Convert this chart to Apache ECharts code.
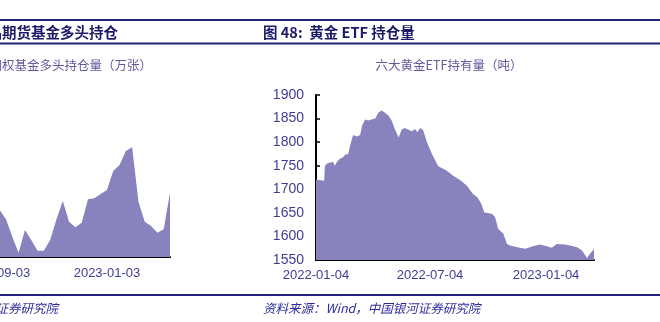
<!DOCTYPE html>
<html><head><meta charset="utf-8">
<script src="https://cdn.jsdelivr.net/npm/echarts@6/dist/echarts.min.js"></script>
<style>html,body{margin:0;padding:0;background:#fff}#c{width:660px;height:322px}</style>
</head><body><div id="c"></div>
<script>
// Left chart (期权基金多头持仓量, 万张) — weekly
const leftDates = ['2022-09-06','2022-09-13','2022-09-20','2022-09-27','2022-10-04','2022-10-11','2022-10-18','2022-10-25','2022-11-01','2022-11-08','2022-11-15','2022-11-22','2022-11-29','2022-12-06','2022-12-13','2022-12-20','2022-12-27','2023-01-03','2023-01-10','2023-01-17','2023-01-24','2023-01-31','2023-02-07','2023-02-14','2023-02-21','2023-02-28','2023-03-07','2023-03-14'];
const leftValues = [8.70,6.98,3.76,0.80,5.00,3.15,1.17,1.17,3.15,6.98,10.37,6.54,5.50,6.35,10.69,10.87,11.67,12.41,15.93,17.04,19.63,20.31,10.24,6.54,5.74,4.50,5.13,11.91];
const leftTicks = ['2022-09-03','2023-01-03'];

// Right chart (六大黄金ETF持有量, 吨)
const rightDates = ['2022-01-04','2022-01-17','2022-01-18','2022-01-21','2022-01-26','2022-01-29','2022-01-31','2022-02-03','2022-02-06','2022-02-11','2022-02-16','2022-02-19','2022-02-24','2022-02-27','2022-03-02','2022-03-04','2022-03-10','2022-03-15','2022-03-18','2022-03-23','2022-03-28','2022-04-02','2022-04-08','2022-04-13','2022-04-18','2022-04-24','2022-04-29','2022-05-04','2022-05-09','2022-05-15','2022-05-20','2022-05-25','2022-05-30','2022-06-05','2022-06-10','2022-06-14','2022-06-18','2022-06-23','2022-06-29','2022-07-07','2022-07-17','2022-07-30','2022-08-09','2022-08-21','2022-08-31','2022-09-10','2022-09-17','2022-09-23','2022-09-28','2022-10-10','2022-10-15','2022-10-20','2022-10-28','2022-11-03','2022-11-08','2022-11-19','2022-12-02','2022-12-14','2022-12-25','2023-01-05','2023-01-13','2023-01-21','2023-02-03','2023-02-11','2023-02-22','2023-03-02','2023-03-10','2023-03-15','2023-03-21'];
const rightValues = [1721,1718,1749,1754,1757,1756,1758,1750,1758,1765,1768,1773,1775,1773,1807,1815,1812,1815,1835,1848,1846,1848,1850,1863,1867,1862,1856,1846,1828,1810,1827,1830,1827,1823,1828,1821,1830,1825,1800,1775,1749,1740,1729,1719,1708,1690,1683,1670,1651,1648,1641,1616,1606,1584,1581,1577,1574,1579,1583,1579,1576,1584,1583,1581,1577,1570,1554,1564,1573];
const rightTicks = ['2022-01-04','2022-07-04','2023-01-04'];
const rightYMin = 1550, rightYMax = 1900, rightYStep = 50;

function d(s){const p=s.split('-').map(Number);return Date.UTC(p[0],p[1]-1,p[2]);}
function fmt(v){const t=new Date(v);const m=t.getUTCMonth()+1,dd=t.getUTCDate();return t.getUTCFullYear()+'-'+(m<10?'0':'')+m+'-'+(dd<10?'0':'')+dd;}

const NAVY='#23217a', LAB='#3f3c96', SUB='#5f5a9e', FILL='#8882bd';
const chart = echarts.init(document.getElementById('c'), null, {renderer:'canvas'});
const axisX = (ticks, margin) => ({
  type:'value', scale:true,
  axisLine:{show:true,lineStyle:{color:'#000',width:2}},
  axisTick:{show:true,inside:true,length:4,lineStyle:{color:'#000',width:2},customValues:ticks.map(d)},
  axisLabel:{customValues:ticks.map(d),formatter:fmt,color:LAB,fontSize:13,fontFamily:'Liberation Sans, Arial',margin:margin,showMinLabel:true,showMaxLabel:true,hideOverlap:false},
  splitLine:{show:false}
});
chart.setOption({
  animation:false,
  grid:[
    {left:-3,top:95,width:173,height:162,outerBoundsMode:'none',containLabel:false},
    {left:316,top:95,width:278,height:165,outerBoundsMode:'none',containLabel:false}
  ],
  xAxis:[
    Object.assign(axisX(leftTicks,10),{gridIndex:0,min:d('2022-09-03'),max:d('2023-03-14')}),
    Object.assign(axisX(rightTicks,9),{gridIndex:1,min:d('2022-01-04'),max:d('2023-03-21')})
  ],
  yAxis:[
    {type:'value',gridIndex:0,min:0,max:30,show:false},
    {type:'value',gridIndex:1,min:rightYMin,max:rightYMax,interval:rightYStep,
     axisLine:{show:true,lineStyle:{color:'#000',width:2}},
     axisTick:{show:true,inside:true,length:4,lineStyle:{color:'#000',width:1.5}},
     axisLabel:{color:LAB,fontSize:14,fontFamily:'Liberation Sans, Arial',margin:12,formatter:v=>String(v)},
     splitLine:{show:false}}
  ],
  series:[
    {type:'line',xAxisIndex:0,yAxisIndex:0,data:leftDates.map((t,i)=>[d(t),leftValues[i]]),showSymbol:false,lineStyle:{width:0},areaStyle:{color:FILL,opacity:1,origin:'start'}},
    {type:'line',xAxisIndex:1,yAxisIndex:1,data:rightDates.map((t,i)=>[d(t),rightValues[i]]),showSymbol:false,lineStyle:{width:0},areaStyle:{color:FILL,opacity:1,origin:'start'}}
  ],
  graphic:[
    {type:'line',shape:{x1:0,y1:20,x2:660,y2:20},style:{stroke:NAVY,lineWidth:2}},
    {type:'line',shape:{x1:0,y1:43.5,x2:660,y2:43.5},style:{stroke:NAVY,lineWidth:2}},
    {type:'line',shape:{x1:0,y1:295,x2:660,y2:295},style:{stroke:NAVY,lineWidth:2}},
    {type:'text',style:{text:'图 47：商品期货基金多头持仓',x:118,y:32,textAlign:'right',textVerticalAlign:'middle',font:'bold 14.5px "Noto Sans CJK SC"',fill:'#1c1a68'}},
    {type:'text',style:{text:'图 48:  黄金 ETF 持仓量',x:263,y:32,textAlign:'left',textVerticalAlign:'middle',font:'bold 14.5px "Noto Sans CJK SC"',fill:'#1c1a68'}},
    {type:'text',style:{text:'期权基金多头持仓量（万张）',x:152,y:65,textAlign:'right',textVerticalAlign:'middle',font:'12.5px "Noto Sans CJK SC"',fill:SUB}},
    {type:'text',style:{text:'六大黄金ETF持有量（吨）',x:449,y:65,textAlign:'center',textVerticalAlign:'middle',font:'12.5px "Noto Sans CJK SC"',fill:SUB}},
    {type:'text',style:{text:'资料来源：Wind，中国银河证券研究院',x:58,y:308,textAlign:'right',textVerticalAlign:'middle',font:'italic 12.5px "Noto Sans CJK SC"',fill:'#2d2c9c'}},
    {type:'text',style:{text:'资料来源：Wind，中国银河证券研究院',x:263,y:308,textAlign:'left',textVerticalAlign:'middle',font:'italic 12.5px "Noto Sans CJK SC"',fill:'#2d2c9c'}}
  ]
});
</script></body></html>
